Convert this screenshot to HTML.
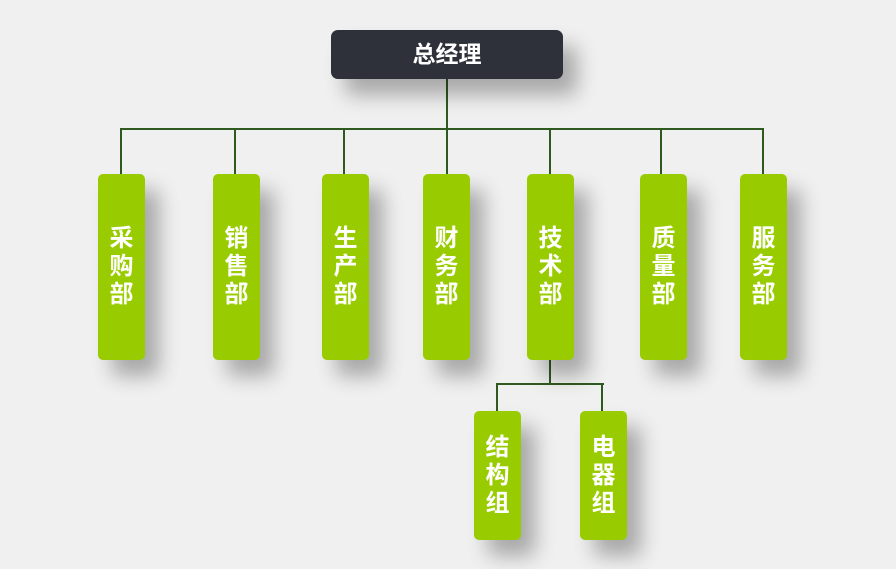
<!DOCTYPE html>
<html><head><meta charset="utf-8"><style>
body{margin:0;width:896px;height:569px;background:#f0f0f0;position:relative;overflow:hidden;font-family:"Liberation Sans","Noto Sans CJK SC",sans-serif}
.t{position:absolute;left:331px;top:30px;width:232px;height:49px;background:#2e3139;border-radius:7px;color:#fff;font-weight:bold;font-size:23px;line-height:49px;text-align:center;box-shadow:14px 16px 20px rgba(0,0,0,.3)}
.b{position:absolute;width:47px;background:#99cc00;border-radius:5px;color:#fff;font-weight:bold;font-size:24px;line-height:28px;display:flex;align-items:center;justify-content:center;text-align:center;box-shadow:14px 16px 20px rgba(0,0,0,.3)}
.l{position:absolute;background:#2f5a1f}
</style></head><body>
<div class="l" style="left:446px;top:79px;width:2px;height:51px"></div>
<div class="l" style="left:120px;top:128px;width:644px;height:2px"></div>
<div class="l" style="left:120px;top:128px;width:2px;height:46px"></div>
<div class="l" style="left:234px;top:128px;width:2px;height:46px"></div>
<div class="l" style="left:343px;top:128px;width:2px;height:46px"></div>
<div class="l" style="left:446px;top:128px;width:2px;height:46px"></div>
<div class="l" style="left:549px;top:128px;width:2px;height:46px"></div>
<div class="l" style="left:660px;top:128px;width:2px;height:46px"></div>
<div class="l" style="left:762px;top:128px;width:2px;height:46px"></div>
<div class="l" style="left:549px;top:360px;width:2px;height:25px"></div>
<div class="l" style="left:496px;top:383px;width:108px;height:2px"></div>
<div class="l" style="left:496px;top:383px;width:2px;height:28px"></div>
<div class="l" style="left:601px;top:383px;width:2px;height:28px"></div>
<div class="t">总经理</div>
<div class="b" style="left:98px;top:174px;height:186px">采<br>购<br>部</div>
<div class="b" style="left:213px;top:174px;height:186px">销<br>售<br>部</div>
<div class="b" style="left:322px;top:174px;height:186px">生<br>产<br>部</div>
<div class="b" style="left:423px;top:174px;height:186px">财<br>务<br>部</div>
<div class="b" style="left:527px;top:174px;height:186px">技<br>术<br>部</div>
<div class="b" style="left:640px;top:174px;height:186px">质<br>量<br>部</div>
<div class="b" style="left:740px;top:174px;height:186px">服<br>务<br>部</div>
<div class="b" style="left:474px;top:411px;height:129px">结<br>构<br>组</div>
<div class="b" style="left:580px;top:411px;height:129px">电<br>器<br>组</div>
</body></html>
